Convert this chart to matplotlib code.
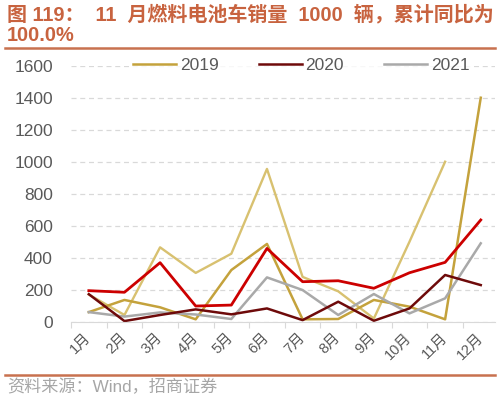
import matplotlib.pyplot as plt
import numpy as np

plt.rcParams['font.family'] = ['Liberation Sans', 'Noto Sans CJK SC']

months = ["1月", "2月", "3月", "4月", "5月", "6月", "7月", "8月", "9月", "10月", "11月", "12月"]

# unlabeled series (light tan, ends in Nov; bright red)
tan_vals = [170, 42, 465, 305, 425, 955, 280, 190, 20, 500, 1000]
red_vals = [194, 184, 369, 98, 104, 458, 250, 256, 209, 306, 371, 636]
# legend series
y2019 = [60, 136, 90, 15, 323, 486, 15, 17, 136, 94, 15, 1400]
y2020 = [172, 4, 42, 77, 46, 83, 10, 125, 6, 83, 292, 229]
y2021 = [60, 32, 58, 45, 17, 277, 198, 42, 173, 52, 146, 490]

title = "图 119：  11  月燃料电池车销量  1000  辆，累计同比为\n100.0%"
source = "资料来源：Wind，招商证券"

fig = plt.figure(figsize=(5, 3.99), dpi=100)
ax = fig.add_axes([0.142, 0.1937, 0.848, 0.6416])

x = np.arange(1, 13)
ax.plot(x[:len(tan_vals)], tan_vals, color="#D8C170", lw=1.7, label="_nolegend_")
ax.plot(x, y2019, color="#C4A23C", lw=1.8, label="2019")
ax.plot(x, y2021, color="#A9A9A9", lw=1.8, label="2021", zorder=2.1)
ax.plot(x, y2020, color="#6E0A0A", lw=1.8, label="2020", zorder=2.2)
ax.plot(x, red_vals, color="#CC0000", lw=2.0, label="_nolegend_", zorder=2.3)

ax.set_xlim(0.5, 12.4)
ax.set_ylim(0, 1600)
ax.set_yticks(np.arange(0, 1601, 200))
ax.yaxis.grid(True, linestyle=(0, (4, 3)), color="#D9D9D9", lw=0.9)
ax.set_axisbelow(True)
for s in ("top", "right", "left"):
    ax.spines[s].set_visible(False)
ax.spines["bottom"].set_color("#D9D9D9")
ax.tick_params(axis="y", length=0, pad=13, labelsize=12.5, labelcolor="#595959")

ax.set_xticks(np.arange(0.5, 12.5, 1))
ax.set_xticklabels([])
ax.tick_params(axis="x", which="major", length=4, color="#D9D9D9")
ax.set_xticks(x, minor=True)
ax.set_xticklabels(months, minor=True, rotation=45, ha="right", va="center",
                   rotation_mode="anchor", fontsize=10.5, color="#595959")
ax.tick_params(axis="x", which="minor", length=0, pad=10)

handles, labels = ax.get_legend_handles_labels()
order = [labels.index(l) for l in ("2019", "2020", "2021")]
leg = ax.legend([handles[i] for i in order], [labels[i] for i in order],
                ncol=3, loc="center", bbox_to_anchor=(0.543, 1.0),
                frameon=True, fontsize=12.5, handlelength=2.5,
                columnspacing=2.3, handletextpad=0.2, borderpad=0.1)
leg.get_frame().set_edgecolor("none")
leg.get_frame().set_facecolor("white")
for t in leg.get_texts():
    t.set_color("#595959")

fig.text(0.014, 0.988, title, ha="left", va="top", fontsize=14.4,
         fontweight="bold", color="#C8633F", linespacing=1.08)
fig.add_artist(plt.Line2D([0.01, 0.99], [0.879, 0.879], color="#C8714F", lw=1.8))
fig.add_artist(plt.Line2D([0.01, 0.99], [0.06, 0.06], color="#C8714F", lw=1.8))
fig.text(0.014, 0.03, source, ha="left", va="center", fontsize=12.3, color="#A6A6A6")

fig.savefig("out.png", dpi=100, facecolor="white")
